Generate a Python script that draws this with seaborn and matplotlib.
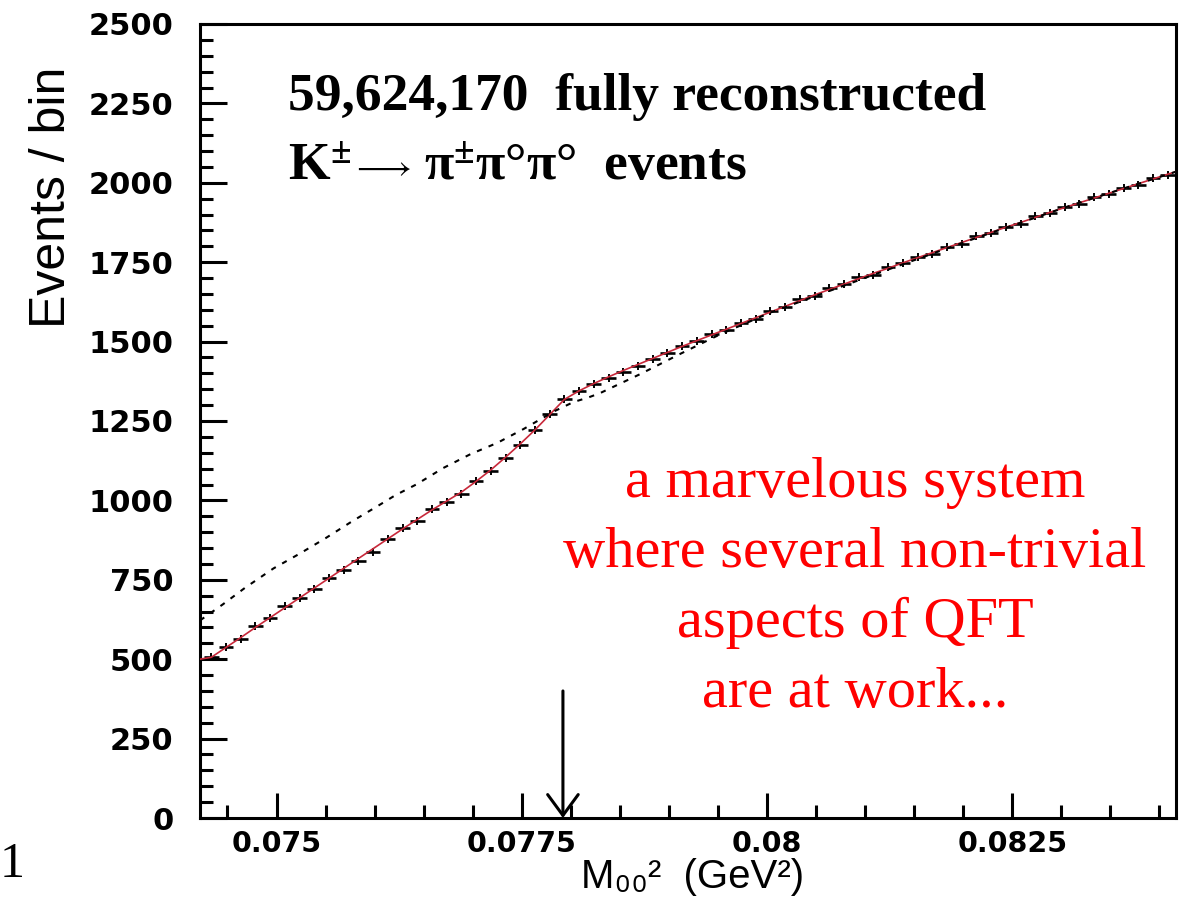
import numpy as np
import pandas as pd
import matplotlib
matplotlib.use("Agg")
import matplotlib.pyplot as plt
import seaborn as sns
from matplotlib.ticker import MultipleLocator, FuncFormatter

# ---- histogram of M00^2 (GeV^2) ------------------------------------------
bin_lo = 0.07426          # lower edge of the first bin
bin_width = 0.00015       # GeV^2 per bin
x_range = (0.07422, 0.08417)
y_range = (0, 2500)
threshold = 0.07792       # 4 m(pi+)^2

counts = [
    506, 537, 563, 603, 629, 666, 692, 721, 755, 782,
    808, 836, 877, 912, 936, 972, 995, 1020, 1061, 1092,
    1134, 1176, 1221, 1271, 1320, 1343, 1366, 1386, 1403, 1424,
    1444, 1463, 1487, 1501, 1524, 1535, 1560, 1572, 1597, 1609,
    1633, 1645, 1668, 1680, 1702, 1711, 1734, 1746, 1765, 1777,
    1799, 1808, 1831, 1841, 1862, 1871, 1894, 1904, 1924, 1934,
    1955, 1964, 1984, 1994, 2015, 2025,
]

# fit with the cusp (solid red), sampled at the axis edges and bin centres
fit_counts = [
    500,
    506, 537, 568, 600, 631, 662, 693, 724, 755, 786,
    817, 848, 879, 910, 940, 970, 998, 1026, 1060, 1096,
    1136, 1178, 1222, 1270, 1318, 1345, 1368, 1389, 1409, 1428,
    1447, 1466, 1485, 1503, 1521, 1539, 1557, 1575, 1593, 1611,
    1629, 1647, 1664, 1681, 1698, 1715, 1731, 1748, 1764, 1780,
    1796, 1812, 1828, 1844, 1860, 1875, 1891, 1907, 1922, 1937,
    1952, 1967, 1982, 1997, 2012, 2027,
    2035,
]

# fit without the cusp (dashed black)
nocusp_x = [
    0.07422, 0.07445, 0.07468, 0.07497, 0.07524, 0.07550, 0.07577,
    0.07603, 0.07621, 0.07643, 0.07670, 0.07698, 0.07725, 0.07752,
    0.07766, 0.07784, 0.07803, 0.07817, 0.07830, 0.07858, 0.07871,
    0.07912, 0.07953, 0.08004, 0.08111, 0.08213, 0.08310, 0.08417,
]
nocusp_y = [
    622, 672, 725, 786, 833, 881, 934,
    982, 1016, 1051, 1102, 1146, 1181, 1225,
    1250, 1282, 1310, 1323, 1338, 1379, 1398,
    1462, 1524, 1592, 1713, 1826, 1929, 2035,
]

x_major, x_minor = 0.0025, 0.0005
y_major, y_minor = 250, 50

x_title = "M₀₀²  (GeV²)"
y_title = "Events / bin"
headline = "59,624,170  fully reconstructed"
decay_parts = [r"K$^{\pm}$", r"$\longrightarrow$", r"π$^{\pm}$π°π°  events"]
note_lines = ["a marvelous system",
              "where several non-trivial",
              "aspects of QFT",
              "are at work..."]

# ---- data frames ------------------------------------------------------------
centers = bin_lo + bin_width * (np.arange(len(counts)) + 0.5)
hist = pd.DataFrame({"m2": centers, "events": counts})
fit = pd.DataFrame({"m2": np.concatenate([[x_range[0]], centers, [x_range[1]]]),
                    "events": fit_counts})
nocusp = pd.DataFrame({"m2": nocusp_x, "events": nocusp_y})

# ---- style ------------------------------------------------------------------
sns.set_theme(style="ticks")
plt.rcParams["font.family"] = ["Liberation Sans", "DejaVu Sans"]
plt.rcParams["mathtext.fontset"] = "custom"
plt.rcParams["mathtext.rm"] = "Liberation Serif:bold"
plt.rcParams["mathtext.it"] = "Liberation Serif:bold"
plt.rcParams["mathtext.bf"] = "Liberation Serif:bold"
plt.rcParams["mathtext.fallback"] = "stix"

W, H = 1186, 906
fig = plt.figure(figsize=(W / 100, H / 100), dpi=100)
fig.patch.set_facecolor("white")
L, R, T, B = 200, 1176, 24, 818
ax = fig.add_axes([L / W, 1 - B / H, (R - L) / W, (B - T) / H])
ax.set_facecolor("white")

def px(x, y):
    return x / W, 1 - y / H

# data points: horizontal bin bars with a short vertical mark
ax.errorbar(hist["m2"], hist["events"], xerr=bin_width / 2, fmt="none",
            ecolor="black", elinewidth=1.9, capsize=0, zorder=3)
sns.scatterplot(data=hist, x="m2", y="events", marker="|", s=30,
                color="black", linewidth=1.4, ax=ax, zorder=3, legend=False)

# fits
sns.lineplot(data=fit, x="m2", y="events", color="#c8283a", linewidth=1.2,
             sort=False, ax=ax, zorder=4)
sns.lineplot(data=nocusp, x="m2", y="events", color="black", linewidth=1.5,
             sort=False, ax=ax, zorder=4, linestyle=(0, (2.5, 3.5)))

# threshold arrow
ax.annotate("", xy=(threshold, 0), xytext=(threshold, 400),
            arrowprops=dict(arrowstyle="->,head_length=1.5,head_width=1.1",
                            color="black", lw=2.2, mutation_scale=10,
                            shrinkA=0, shrinkB=0),
            zorder=5)

# axes
ax.set_xlim(*x_range)
ax.set_ylim(*y_range)
ax.xaxis.set_major_locator(MultipleLocator(x_major))
ax.xaxis.set_minor_locator(MultipleLocator(x_minor))
ax.yaxis.set_major_locator(MultipleLocator(y_major))
ax.yaxis.set_minor_locator(MultipleLocator(y_minor))
ax.xaxis.set_major_formatter(FuncFormatter(lambda v, p: f"{v:g}"))
ax.yaxis.set_major_formatter(FuncFormatter(lambda v, p: f"{v:.0f}"))

for s in ax.spines.values():
    s.set_linewidth(2.2)
    s.set_color("black")
ax.tick_params(axis="both", which="both", direction="in", color="black",
               labelcolor="black", width=2.2, top=False, right=False)
ax.tick_params(axis="y", which="major", length=19.4, pad=19)
ax.tick_params(axis="y", which="minor", length=9.4)
ax.tick_params(axis="x", which="major", length=18, pad=9)
ax.tick_params(axis="x", which="minor", length=9.4)
for lab in ax.get_yticklabels():
    lab.set_fontfamily("DejaVu Sans")
    lab.set_fontweight("bold")
    lab.set_fontsize(22)
for lab in ax.get_xticklabels():
    lab.set_fontfamily("DejaVu Sans")
    lab.set_fontweight("bold")
    lab.set_fontsize(20.5)

ax.set_ylabel(y_title, fontsize=36, color="black")
ax.yaxis.set_label_coords(-0.128, 0.782)
ax.set_xlabel(x_title, fontsize=29, color="black")
ax.xaxis.set_label_coords((693 - L) / (R - L), -0.0505)

# headline
serif_bold = dict(family=["Liberation Serif", "DejaVu Sans"],
                  weight="bold", color="black")
fig.text(*px(288, 110), headline, ha="left", va="baseline",
         fontsize=38.5, **serif_bold)
fig.text(*px(288, 180), decay_parts[0], ha="left", va="baseline",
         fontsize=38.5, **serif_bold)
fig.text(*px(351, 176), decay_parts[1], ha="left", va="baseline",
         fontsize=25, **serif_bold)
fig.text(*px(424, 180), decay_parts[2], ha="left", va="baseline",
         fontsize=38.5, **serif_bold)

# remark in red
for i, line in enumerate(note_lines):
    fig.text(*px(855, 497 + 70 * i), line, ha="center", va="baseline",
             family=["Liberation Serif", "DejaVu Serif"], fontsize=42,
             color="#ff0000")

# page number
fig.text(*px(0, 877), "1", ha="left", va="baseline",
         family=["Liberation Serif", "DejaVu Serif"], fontsize=36,
         color="black")

fig.savefig("out.png", dpi=100, facecolor="white")
